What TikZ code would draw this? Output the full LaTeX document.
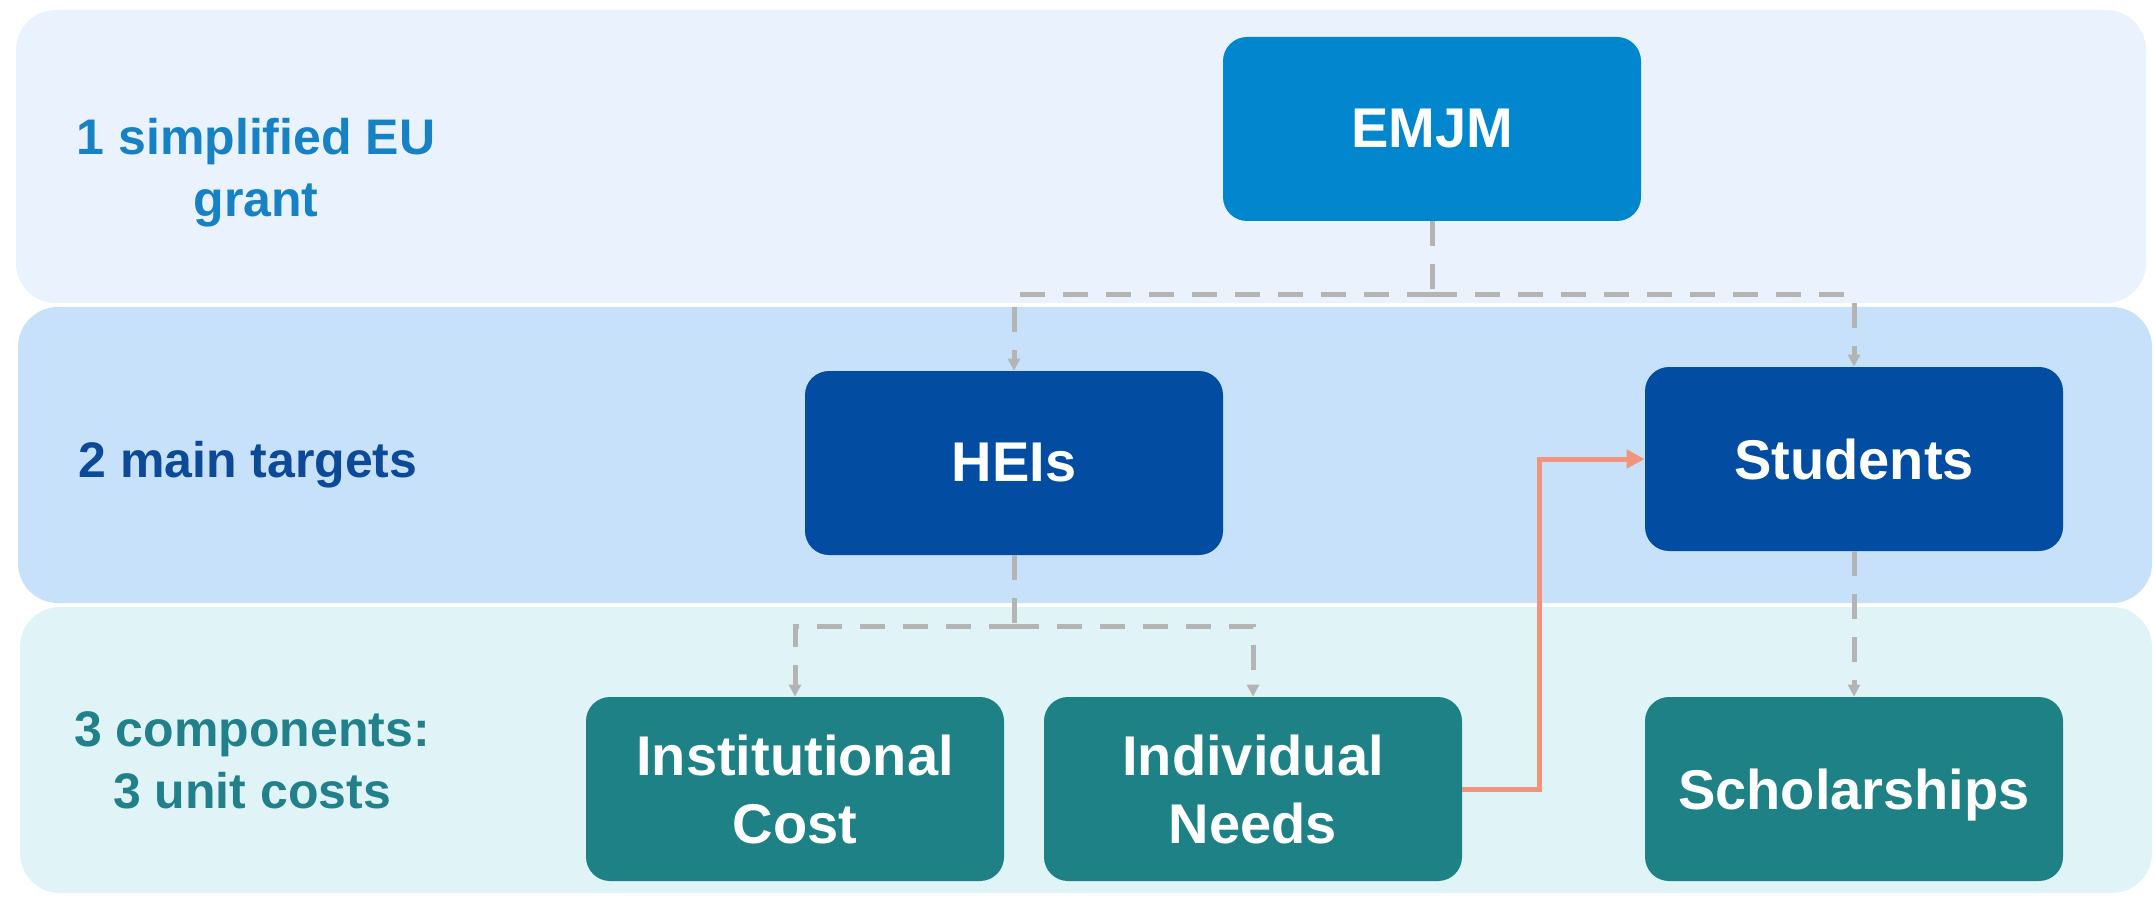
\documentclass[tikz,border=0pt]{standalone}
\usepackage{fontspec}
\setmainfont{Liberation Sans}
\usetikzlibrary{arrows.meta}
\definecolor{bandA}{HTML}{EAF3FD}
\definecolor{bandB}{HTML}{C8E1FA}
\definecolor{bandC}{HTML}{E0F4F8}
\definecolor{emjmblue}{HTML}{0286CE}
\definecolor{navy}{HTML}{024DA1}
\definecolor{tealbox}{HTML}{1E8186}
\definecolor{lblA}{HTML}{1681C4}
\definecolor{lblB}{HTML}{0C4A98}
\definecolor{lblC}{HTML}{22808A}
\definecolor{dashgray}{HTML}{B4B4B4}
\definecolor{salmon}{HTML}{F2937C}
\begin{document}
\begin{tikzpicture}[x=0.5pt,y=-0.5pt,
  box/.style={rectangle, rounded corners=12pt, minimum width=209pt, minimum height=92pt,
    inner sep=0pt, text=white, font=\bfseries\fontsize{28}{34}\selectfont, align=center},
  band/.style={rounded corners=20pt},
  lbl/.style={font=\bfseries\fontsize{25}{31}\selectfont, align=center},
  conn/.style={draw=dashgray, line width=2.5pt, dash pattern=on 12.5pt off 9pt},
  tip/.style={-{Triangle[length=6pt,width=6pt]}},
  hot/.style={draw=salmon, line width=2.5pt, -{Triangle[length=9pt,width=9pt]}}]
\useasboundingbox[fill=white] (0,0) rectangle (2155,898);
% bands
\fill[band, bandA] (16,10) rectangle (2146,303);
\fill[band, bandB] (18,307) rectangle (2152,603);
\fill[band, bandC] (20,607) rectangle (2152,893);
% labels
\node[lbl, text=lblA] (lab1) at (256,173) {1 simplified EU\\grant};
\node[lbl, text=lblB] (lab2) at (248,465) {2 main targets};
\node[lbl, text=lblC] (lab3) at (252,760) {3 components:\\3 unit costs};
% boxes
\node[box, fill=emjmblue] (emjm) at (1432,129) {EMJM};
\node[box, fill=navy] (hei) at (1014,463) {HEIs};
\node[box, fill=navy] (stu) at (1854,459) {Students};
\node[box, fill=tealbox] (inst) at (795,789) {Institutional\\Cost};
\node[box, fill=tealbox] (ind) at (1253,789) {Individual\\Needs};
\node[box, fill=tealbox, text depth=0pt] (sch) at (1854,789) {Scholarships};
% dashed connectors
\coordinate (j1) at (1432,295);
\coordinate (j2) at (1014,626);
\draw[conn] (emjm) -- (j1);
\draw[conn, tip] (j1) -| (hei);
\draw[conn, tip] (j1) -| (stu);
\draw[conn] (hei) -- (j2);
\draw[conn, tip] (j2) -| (inst);
\draw[conn, tip] (j2) -| (ind);
\draw[conn, tip] (stu) -- (sch);
% orange connector
\coordinate (k1) at (1539,789);
\draw[hot] (ind.east) -- (k1) |- (stu.west);
\end{tikzpicture}
\end{document}
